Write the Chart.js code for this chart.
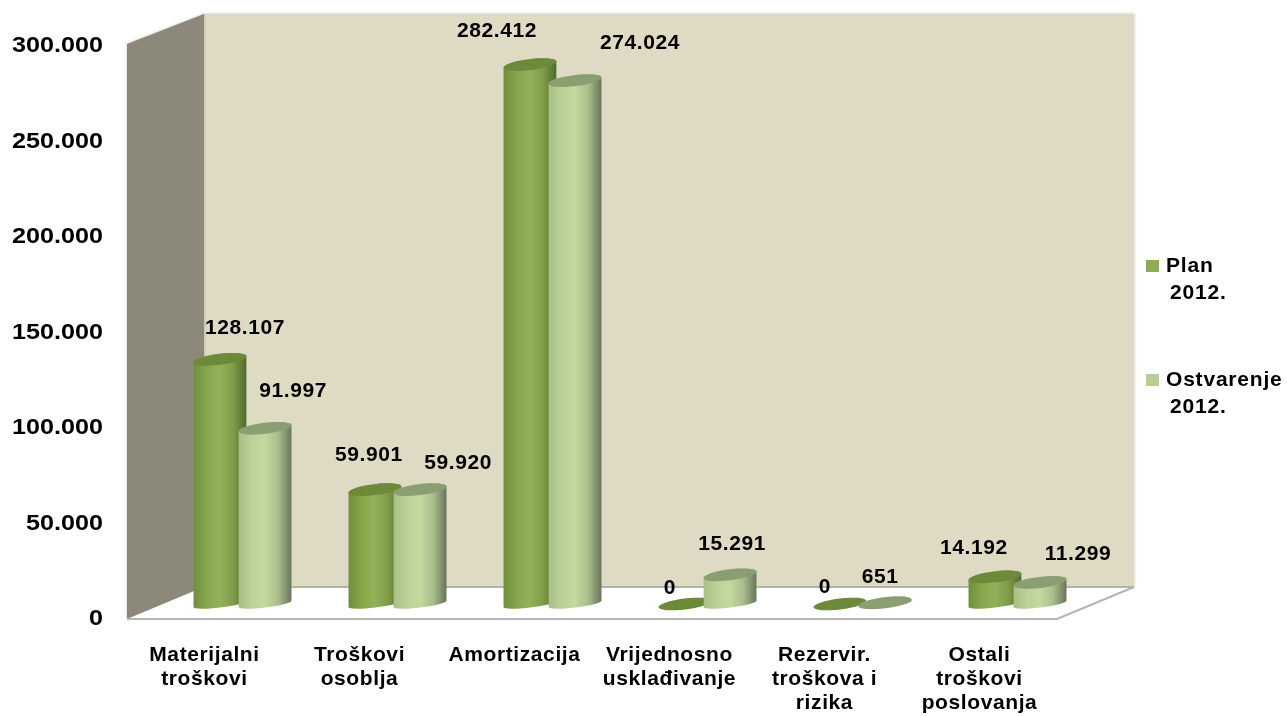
<!DOCTYPE html>
<html>
<head>
<meta charset="utf-8">
<title>Troškovi</title>
<script src="https://cdn.jsdelivr.net/npm/chart.js@4/dist/chart.umd.js"></script>
<style>
  html, body { margin: 0; padding: 0; background: #fff; }
  canvas { display: block; }
</style>
</head>
<body>
<canvas id="chart" width="1287" height="716"></canvas>
<script>
const categories = [
  ["Materijalni", "troškovi"],
  ["Troškovi", "osoblja"],
  ["Amortizacija"],
  ["Vrijednosno", "usklađivanje"],
  ["Rezervir.", "troškova i", "rizika"],
  ["Ostali", "troškovi", "poslovanja"]
];
const planValues = [128107, 59901, 282412, 0, 0, 14192];
const actualValues = [91997, 59920, 274024, 15291, 651, 11299];
const seriesNames = ["Plan 2012.", "Ostvarenje 2012."];
const yMax = 300000;
const yStep = 50000;

// pomak oznaka od vrha stupca (rucno postavljene u originalu)
const planLabelNudge = [[25, -31], [-6, -34], [-33, -33], [-15, -16], [-15, -17], [-21, -29]];
const actualLabelNudge = [[28, -37], [38, -26], [65, -37], [2, -31], [-5, -26], [38, -28]];

const FONT = '"Liberation Sans", Arial, sans-serif';
const DEPTH_X = 77, DEPTH_Y = 32;       // dubina poda
const BAR_DX = 38, BAR_DY = -15;        // stupci stoje na sredini poda
const TILT = -7 * Math.PI / 180;
const TOP_RY = 5.5, BOTTOM_RY = 3.5;

const planColor = "#8FAB57";
const actualColor = "#B8CE94";
const shades = {
  [planColor]: { top: "#6C8A3A", stops: ["#6F8F3D", "#86A64C", "#93B159", "#7F9C48", "#4F6A2A"] },
  [actualColor]: { top: "#8B9E72", stops: ["#A5BF84", "#BBD297", "#C3D99F", "#A9BD8A", "#66745A"] }
};

const fmt = (v) => String(v).replace(/\B(?=(\d{3})+$)/g, ".");

// stupci se crtaju kao valjci
Chart.BarElement.prototype.draw = function (ctx) {
  const shade = shades[this.options.backgroundColor];
  const x = this.x + BAR_DX;
  const top = this.y + BAR_DY;
  const base = this.base + BAR_DY;
  const rx = this.width / 2;
  ctx.save();
  if (base - top > 0.5) {
    const g = ctx.createLinearGradient(x - rx, 0, x + rx, 0);
    [0, 0.25, 0.5, 0.75, 1].forEach((p, i) => g.addColorStop(p, shade.stops[i]));
    ctx.fillStyle = g;
    ctx.beginPath();
    ctx.ellipse(x, base, rx, BOTTOM_RY, TILT, Math.PI, 0, true);
    ctx.ellipse(x, top, rx, TOP_RY, TILT, 0, Math.PI, true);
    ctx.closePath();
    ctx.fill();
  }
  ctx.fillStyle = shade.top;
  ctx.beginPath();
  ctx.ellipse(x, top, rx, TOP_RY, TILT, 0, Math.PI * 2);
  ctx.fill();
  ctx.restore();
};

const poly = (ctx, pts) => {
  ctx.beginPath();
  pts.forEach((p, i) => (i ? ctx.lineTo(p[0], p[1]) : ctx.moveTo(p[0], p[1])));
  ctx.closePath();
};

const wallsPlugin = {
  id: "walls",
  afterLayout(chart) {
    // oznake u originalu su razvucene vodoravno
    const ctx = chart.ctx;
    const y = chart.scales.y, x = chart.scales.x;
    const dy = y.drawLabels, dx = x.drawLabels;
    y.drawLabels = function (a) {
      ctx.save();
      ctx.translate(103, 0);
      ctx.scale(1.145, 1);
      ctx.translate(-103, 0);
      dy.call(this, a);
      ctx.restore();
    };
    x.drawLabels = function (a) { ctx.letterSpacing = "0.6px"; dx.call(this, a); ctx.letterSpacing = "0px"; };
  },
  beforeDraw(chart) {
    const { ctx, chartArea: { left: L, right: R, top: T, bottom: B } } = chart;
    const backB = B - DEPTH_Y, backT = T - DEPTH_Y;
    ctx.save();
    // zadnji zid
    ctx.shadowColor = "rgba(0,0,0,0.25)";
    ctx.shadowBlur = 3;
    ctx.fillStyle = "#DFDAC3";
    poly(ctx, [[L + DEPTH_X, backT], [R + DEPTH_X, backT], [R + DEPTH_X, backB], [L + DEPTH_X, backB]]);
    ctx.fill();
    // lijevi zid
    ctx.fillStyle = "#8D897A";
    poly(ctx, [[L, T - 2], [L + DEPTH_X, backT], [L + DEPTH_X, backB], [L, B]]);
    ctx.fill();
    ctx.shadowBlur = 0;
    // pod
    ctx.fillStyle = "#FFFFFF";
    poly(ctx, [[L + 3, B - 1], [L + DEPTH_X, backB], [R + DEPTH_X, backB], [R, B]]);
    ctx.fill();
    ctx.strokeStyle = "#B4B2A8";
    ctx.lineWidth = 2;
    ctx.beginPath();
    ctx.moveTo(L + DEPTH_X, backB);
    ctx.lineTo(R + DEPTH_X, backB);
    ctx.stroke();
    ctx.strokeStyle = "#B5B5B5";
    ctx.beginPath();
    ctx.moveTo(L, B);
    ctx.lineTo(R, B);
    ctx.lineTo(R + DEPTH_X, backB);
    ctx.stroke();
    ctx.restore();
  },
  beforeDatasetsDraw(chart) {
    // Ostvarenje mora biti iznad Plana, a Chart.js crta obrnuto
    chart.data.datasets.forEach((ds, d) => chart.getDatasetMeta(d).controller.draw());
    return false;
  }
};

const labelsPlugin = {
  id: "valueLabels",
  afterDraw(chart) {
    const ctx = chart.ctx;
    const nudges = [planLabelNudge, actualLabelNudge];
    ctx.save();
    ctx.font = "bold 21px " + FONT;
    ctx.fillStyle = "#000";
    ctx.textAlign = "center";
    ctx.textBaseline = "middle";
    ctx.letterSpacing = "0.6px";
    chart.data.datasets.forEach((ds, d) => {
      chart.getDatasetMeta(d).data.forEach((bar, i) => {
        ctx.fillText(fmt(ds.data[i]), bar.x + BAR_DX + nudges[d][i][0], bar.y + BAR_DY + nudges[d][i][1]);
      });
    });
    ctx.restore();
  }
};

const legendPlugin = {
  id: "sideLegend",
  afterDraw(chart) {
    const ctx = chart.ctx;
    const rows = [260, 374];
    ctx.save();
    ctx.font = "bold 21px " + FONT;
    ctx.textBaseline = "middle";
    ctx.letterSpacing = "0.8px";
    chart.data.datasets.forEach((ds, d) => {
      const [first, second] = ds.label.split(" ");
      ctx.fillStyle = ds.backgroundColor;
      ctx.fillRect(1146, rows[d], 13, 12);
      ctx.fillStyle = "#000";
      ctx.fillText(first, 1166, rows[d] + 6);
      ctx.fillText(second, 1170, rows[d] + 33);
    });
    ctx.restore();
  }
};

new Chart(document.getElementById("chart"), {
  type: "bar",
  data: {
    labels: categories,
    datasets: [
      { label: seriesNames[0], data: planValues, backgroundColor: planColor },
      { label: seriesNames[1], data: actualValues, backgroundColor: actualColor }
    ]
  },
  options: {
    responsive: false,
    animation: false,
    events: [],
    categoryPercentage: 0.582,
    barPercentage: 1.18,
    layout: { padding: { top: 46, right: 230, left: 0, bottom: 0 } },
    plugins: { legend: { display: false }, tooltip: { enabled: false }, title: { display: false } },
    scales: {
      x: {
        afterFit: (s) => { s.height = 97; },
        grid: { display: false, drawTicks: false },
        border: { display: false },
        ticks: {
          autoSkip: false,
          maxRotation: 0,
          padding: 24,
          color: "#000",
          font: { family: FONT, size: 21, weight: "bold", lineHeight: 1.14 }
        }
      },
      y: {
        min: 0,
        max: yMax,
        afterFit: (s) => { s.width = 127; },
        grid: { display: false, drawTicks: false },
        border: { display: false },
        ticks: {
          stepSize: yStep,
          padding: 24,
          color: "#000",
          font: { family: FONT, size: 22, weight: "bold" },
          callback: (v) => fmt(v)
        }
      }
    }
  },
  plugins: [wallsPlugin, labelsPlugin, legendPlugin]
});
</script>
</body>
</html>
